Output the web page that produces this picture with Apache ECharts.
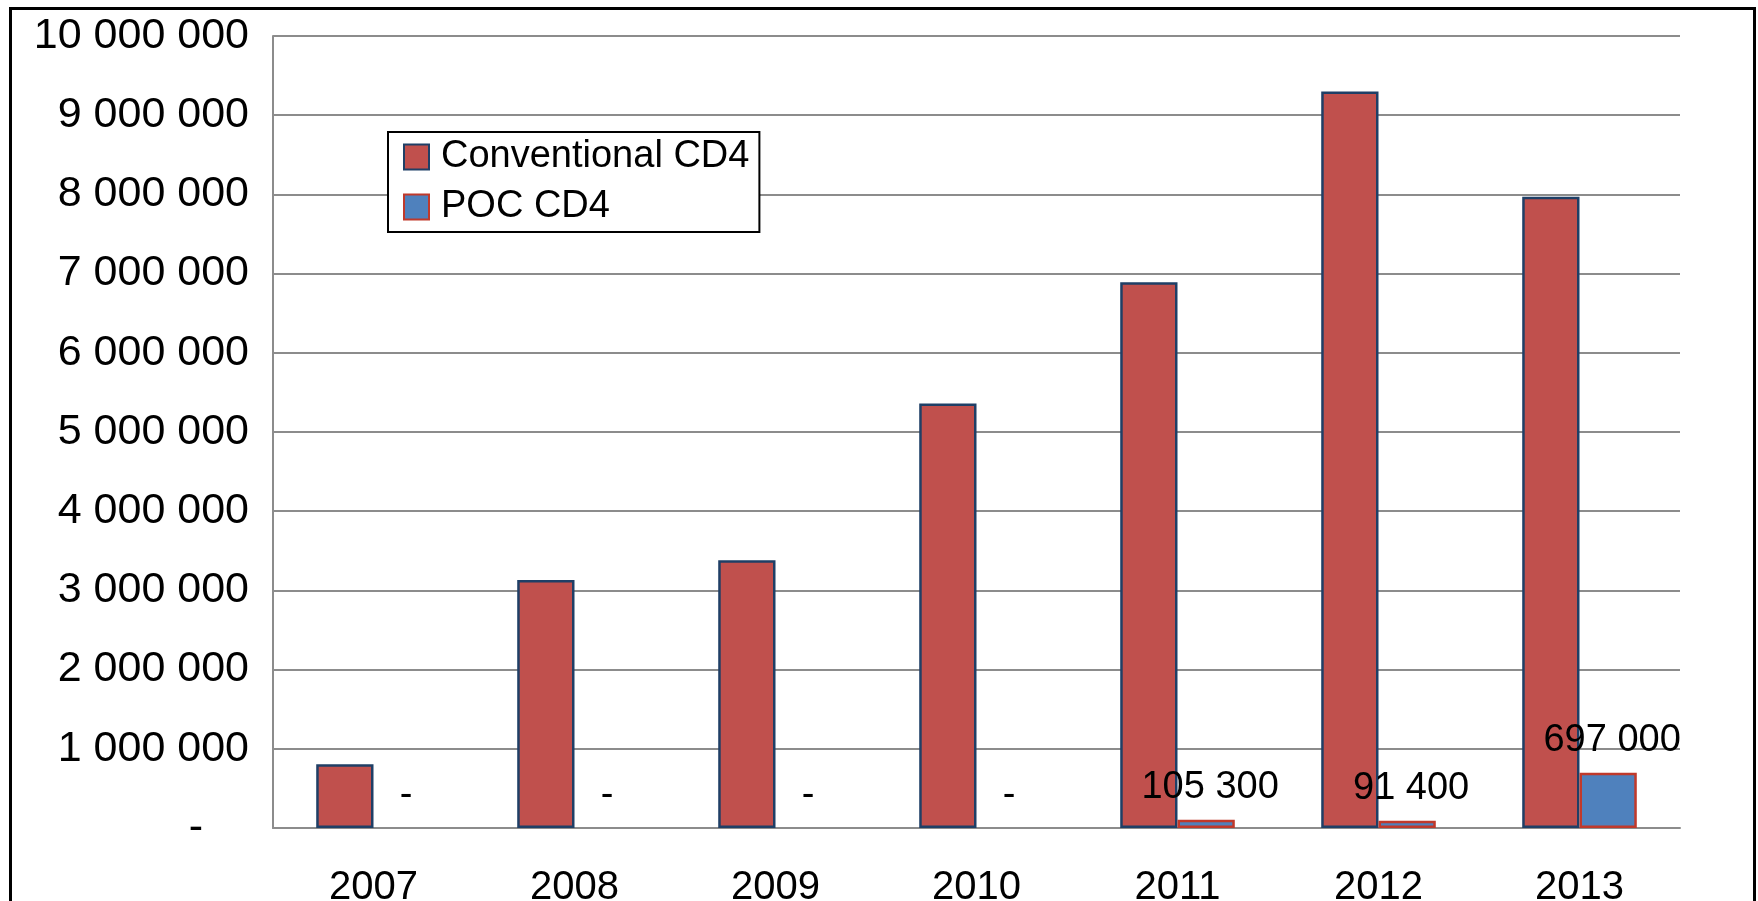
<!DOCTYPE html>
<html>
<head>
<meta charset="utf-8">
<script src="https://cdn.jsdelivr.net/npm/echarts@6/dist/echarts.min.js"></script>
<style>
html,body{margin:0;padding:0;background:#fff;}
#chart{width:1758px;height:901px;}
</style>
</head>
<body>
<div id="chart"></div>
<script>
const years = ['2007','2008','2009','2010','2011','2012','2013'];
const conventional = [805000, 3130000, 3380000, 5360000, 6890000, 9300000, 7970000];
const poc = [0, 0, 0, 0, 105300, 91400, 697000];
const seriesNames = ['Conventional CD4', 'POC CD4'];
const yMin = 0, yMax = 10000000, yStep = 1000000;

function fmt(v) {
  return String(v).replace(/\B(?=(\d{3})+(?!\d))/g, ' ');
}

const chart = echarts.init(document.getElementById('chart'), null, {renderer: 'canvas'});
const FONT = '"Liberation Sans", Arial, sans-serif';
const NARROW = '"Liberation Sans Narrow", "Liberation Sans", Arial, sans-serif';

chart.setOption({
  animation: false,
  backgroundColor: '#ffffff',
  graphic: [{
    type: 'rect',
    left: 8, top: 6,
    shape: {width: 1744, height: 960},
    style: {fill: 'none', stroke: '#000', lineWidth: 3},
    silent: true, z: 0
  }],
  grid: {left: 273, right: 78, top: 36, bottom: 73, containLabel: false, outerBoundsMode: 'none'},
  legend: {
    orient: 'vertical',
    left: 388, top: 132,
    padding: [6, 10, 6, 15],
    itemGap: 12,
    itemWidth: 25, itemHeight: 25,
    icon: 'rect',
    borderColor: '#000', borderWidth: 2,
    backgroundColor: '#fff',
    textStyle: {fontFamily: FONT, fontSize: 38, color: '#000', padding: [0, 0, 0, 7]},
    data: seriesNames
  },
  xAxis: {
    type: 'category',
    data: years,
    axisLine: {show: true, lineStyle: {color: '#8c8c8c', width: 2}},
    axisTick: {show: false},
    axisLabel: {fontFamily: FONT, fontSize: 40, color: '#000', margin: 40}
  },
  yAxis: {
    type: 'value',
    min: yMin, max: yMax, interval: yStep,
    axisLine: {show: true, lineStyle: {color: '#8c8c8c', width: 2}},
    axisTick: {show: false},
    splitLine: {show: true, lineStyle: {color: '#8c8c8c', width: 2}},
    axisLabel: {
      fontFamily: FONT, fontSize: 43, color: '#000', margin: 24,
      formatter: v => v === 0 ? '{z|-}' : fmt(v),
      rich: {z: {fontFamily: FONT, fontSize: 43, color: '#000', padding: [0, 46, 0, 0]}}
    }
  },
  series: [
    {
      name: seriesNames[0], type: 'bar',
      data: conventional,
      barGap: '0%', barCategoryGap: '43%',
      itemStyle: {color: '#C0504D', borderColor: '#1F3F66', borderWidth: 2.5}
    },
    {
      name: seriesNames[1], type: 'bar',
      data: poc.map(v => v === 0 ? {value: v, itemStyle: {borderWidth: 0}} : v),
      barGap: '0%', barCategoryGap: '43%',
      itemStyle: {color: '#4F81BD', borderColor: '#C0392B', borderWidth: 2.5},
      label: {
        show: true, position: 'top', distance: 13, offset: [4, 0],
        fontFamily: NARROW, fontSize: 38, color: '#000',
        formatter: p => p.value === 0 ? '-' : fmt(p.value)
      }
    }
  ]
});
</script>
</body>
</html>
